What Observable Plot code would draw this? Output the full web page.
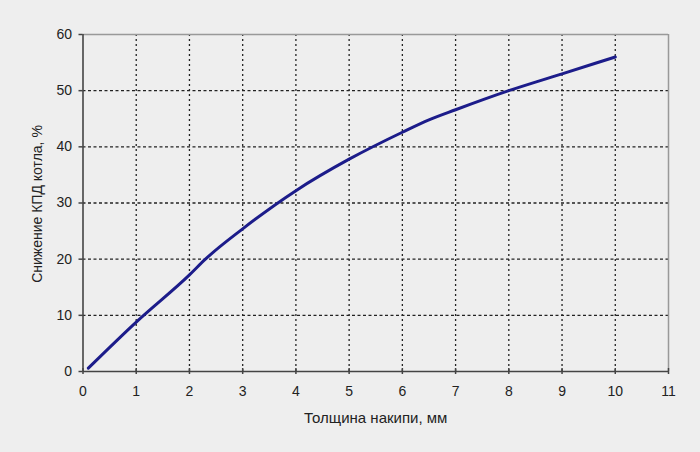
<!DOCTYPE html>
<html>
<head>
<meta charset="utf-8">
<script src="https://cdn.jsdelivr.net/npm/d3@7"></script>
<script src="https://cdn.jsdelivr.net/npm/@observablehq/plot@0.6"></script>
<style>
  html, body { margin: 0; padding: 0; background: #eeeeee; }
  #chart svg { display: block; background: #eeeeee; }
</style>
</head>
<body>
<div id="chart"></div>
<script>
const thickness = [0.1, 1, 2, 2.3, 3, 4, 5, 6, 6.5, 7, 8, 9, 10];
const efficiencyDrop = [0.6, 8.8, 17.2, 20, 25.4, 32.2, 37.8, 42.6, 44.8, 46.6, 50.0, 53.0, 56.0];
const xTicks = [0, 1, 2, 3, 4, 5, 6, 7, 8, 9, 10, 11];
const yTicks = [0, 10, 20, 30, 40, 50, 60];
const xLabel = "Толщина накипи, мм";
const yLabel = "Снижение КПД котла, %";

const data = thickness.map((x, i) => ({x, y: efficiencyDrop[i]}));
const font = "'Liberation Sans', Arial, sans-serif";

const chart = Plot.plot({
  width: 700,
  height: 452,
  marginLeft: 82.5,
  marginRight: 32,
  marginTop: 34,
  marginBottom: 81,
  style: {background: "#eeeeee", fontFamily: font, fontSize: "14px", color: "#222"},
  x: {domain: [0, 11]},
  y: {domain: [0, 60]},
  marks: [
    Plot.ruleX(xTicks.filter(d => d > 0 && d < 11), {stroke: "#222", strokeWidth: 1.3, strokeDasharray: "2,3"}),
    Plot.ruleY(yTicks.filter(d => d > 0 && d < 60), {stroke: "#222", strokeWidth: 1.3, strokeDasharray: "3,2.5"}),
    Plot.ruleY([60], {stroke: "#999", strokeWidth: 1.5}),
    Plot.ruleX([11], {stroke: "#999", strokeWidth: 1.5}),
    Plot.ruleX([0], {stroke: "#444", strokeWidth: 1.6}),
    Plot.ruleY([0], {stroke: "#444", strokeWidth: 1.6}),
    Plot.ruleX(xTicks, {y1: 0, y2: 0, insetTop: -3, insetBottom: -3, stroke: "#444", strokeWidth: 1.5}),
    Plot.axisY({ticks: yTicks, tickSize: 4, tickPadding: 7, stroke: "#444", strokeWidth: 1.5, label: null, fontSize: 14, fill: "#222"}),
    Plot.axisX({ticks: xTicks, tickSize: 0, tickPadding: 15, label: null, fontSize: 14, fill: "#222"}),
    Plot.line(data, {x: "x", y: "y", stroke: "#1c1c8a", strokeWidth: 3, curve: "monotone-x"}),
    Plot.text([xLabel], {frameAnchor: "bottom", dy: 47, lineAnchor: "middle", textAnchor: "middle", fontSize: 15, fill: "#222"}),
    Plot.text([yLabel], {frameAnchor: "left", dx: -45, dy: 1, rotate: -90, lineAnchor: "middle", textAnchor: "middle", fontSize: 14, fill: "#222"})
  ]
});
document.getElementById("chart").appendChild(chart);
</script>
</body>
</html>
